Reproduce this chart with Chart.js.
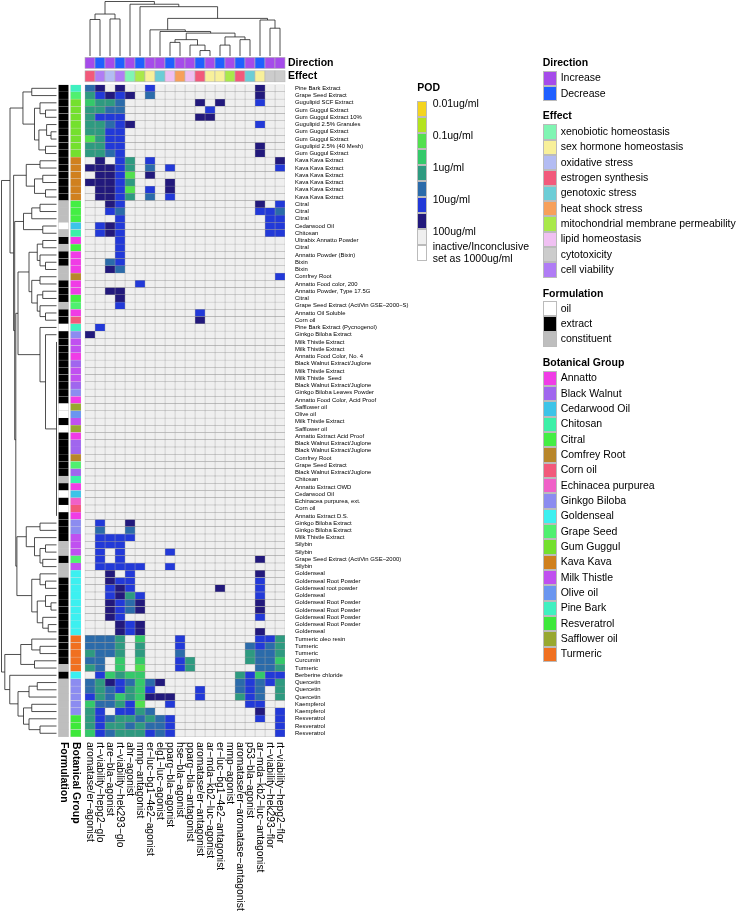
<!DOCTYPE html>
<html>
<head>
<meta charset="utf-8">
<script src="https://cdn.jsdelivr.net/npm/chart.js@4.4.0/dist/chart.umd.min.js"></script>
<style>
  body { margin: 0; background: #fff; font-family: "Liberation Sans", Arial, sans-serif; }
  #wrap { position: relative; width: 740px; height: 917px; overflow: hidden; }
  #heat { position: absolute; left: 0; top: 0; }
  .lg { position: absolute; white-space: nowrap; font-size: 10.5px; line-height: 14px; height: 14px; color: #000; }
  .lt { font-weight: bold; font-size: 10.5px; }
  .sw { position: absolute; box-sizing: border-box; border: 0.5px solid #bbb; }
</style>
</head>
<body>
<div id="wrap">
  <canvas id="heat" width="740" height="917"></canvas>
  <div id="legends"></div>
</div>
<script>
// columns (assays), in dendrogram order
const colLabels = ['aromatase/er−agonist', 'rt−viability−hepg2−glo', 'are−bla−agonist', 'rt−viability−hek293−glo',
  'ahr−agonist', 'mmp−antagonist', 'er−luc−bg1−4e2−agonist', 'elg1−luc−agonist', 'pparg−bla−agonist',
  'hse−bla−agonist', 'pparg−bla−antagonist', 'aromatase/er−antagonist', 'ar−mda−kb2−luc−agonist',
  'er−luc−bg1−4e2−antagonist', 'mmp−agonist', 'aromatase/er−aromatase−antagonist', 'p53−bla−agonist',
  'ar−mda−kb2−luc−antagonist', 'rt−viability−hek293−flor', 'rt−viability−hepg2−flor'];
const colDirection = ['Increase', 'Decrease', 'Increase', 'Decrease', 'Increase', 'Decrease', 'Increase', 'Increase',
  'Decrease', 'Increase', 'Increase', 'Decrease', 'Increase', 'Decrease', 'Increase', 'Decrease', 'Increase',
  'Decrease', 'Increase', 'Increase'];
const colEffect = ['estrogen synthesis', 'cell viability', 'oxidative stress', 'cell viability', 'xenobiotic homeostasis',
  'mitochondrial membrane permeability', 'sex hormone homeostasis', 'genotoxic stress', 'lipid homeostasis',
  'heat shock stress', 'lipid homeostasis', 'estrogen synthesis', 'sex hormone homeostasis', 'sex hormone homeostasis',
  'mitochondrial membrane permeability', 'estrogen synthesis', 'genotoxic stress', 'sex hormone homeostasis',
  'cytotoxicity', 'cytotoxicity'];

// rows (samples), in dendrogram order
const rowLabels = ['Pine Bark Extract', 'Grape Seed Extract', 'Gugulipid SCF Extract', 'Gum Guggul Extract',
  'Gum Guggul Extract 10%', 'Gugulipid 2.5% Granules', 'Gum Guggul Extract', 'Gum Guggul Extract',
  'Gugulipid 2.5% (40 Mesh)', 'Gum Guggul Extract', 'Kava Kava Extract', 'Kava Kava Extract', 'Kava Kava Extract',
  'Kava Kava Extract', 'Kava Kava Extract', 'Kava Kava Extract', 'Citral', 'Citral', 'Citral', 'Cedarwood Oil',
  'Chitosan', 'Ultrabix Annatto Powder', 'Citral', 'Annatto Powder (Bixin)', 'Bixin', 'Bixin', 'Comfrey Root',
  'Annatto Food color, 200', 'Annatto Powder, Type 17.5G', 'Citral', 'Grape Seed Extract (ActiVin GSE−2000−S)',
  'Annatto Oil Soluble', 'Corn oil', 'Pine Bark Extract (Pycnogenol)', 'Ginkgo Biloba Extract',
  'Milk Thistle Extract', 'Milk Thistle Extract', 'Annatto Food Color, No. 4', 'Black Walnut Extract/Juglone',
  'Milk Thistle Extract', 'Milk Thistle  Seed', 'Black Walnut Extract/Juglone', 'Ginkgo Biloba Leaves Powder',
  'Annatto Food Color, Acid Proof', 'Safflower oil', 'Olive oil', 'Milk Thistle Extract', 'Safflower oil',
  'Annatto Extract Acid Proof', 'Black Walnut Extract/Juglone', 'Black Walnut Extract/Juglone', 'Comfrey Root',
  'Grape Seed Extract', 'Black Walnut Extract/Juglone', 'Chitosan', 'Annatto Extract OWD', 'Cedarwood Oil',
  'Echinacea purpurea, ext.', 'Corn oil', 'Annatto Extract D.S.', 'Ginkgo Biloba Extract', 'Ginkgo Biloba Extract',
  'Milk Thistle Extract', 'Silybin', 'Silybin', 'Grape Seed Extract (ActiVin GSE−2000)', 'Silybin', 'Goldenseal',
  'Goldenseal Root Powder', 'Goldenseal root powder', 'Goldenseal', 'Goldenseal Root Powder', 'Goldenseal Root Powder',
  'Goldenseal Root Powder', 'Goldenseal Root Powder', 'Goldenseal', 'Turmeric oleo resin', 'Turmeric', 'Turmeric',
  'Curcumin', 'Turmeric', 'Berberine chloride', 'Quercetin', 'Quercetin', 'Quercetin', 'Kaempferol', 'Kaempferol',
  'Resveratrol', 'Resveratrol', 'Resveratrol'];

// formulation: e = extract, c = constituent, o = oil
const rowFormulation = 'eeeeeeeeeeeeeeeecccoceceecceeeceeoeeeeeeeeeeooeoeeeeeeceoeoeeeeccecceeeeeeeeeeeececcccccccc';

const rowGroup = ['Pine Bark', 'Grape Seed', 'Gum Guggul', 'Gum Guggul', 'Gum Guggul', 'Gum Guggul', 'Gum Guggul',
  'Gum Guggul', 'Gum Guggul', 'Gum Guggul', 'Kava Kava', 'Kava Kava', 'Kava Kava', 'Kava Kava', 'Kava Kava',
  'Kava Kava', 'Citral', 'Citral', 'Citral', 'Cedarwood Oil', 'Chitosan', 'Annatto', 'Citral', 'Annatto', 'Annatto',
  'Annatto', 'Comfrey Root', 'Annatto', 'Annatto', 'Citral', 'Grape Seed', 'Annatto', 'Corn oil', 'Pine Bark',
  'Ginkgo Biloba', 'Milk Thistle', 'Milk Thistle', 'Annatto', 'Black Walnut', 'Milk Thistle', 'Milk Thistle',
  'Black Walnut', 'Ginkgo Biloba', 'Annatto', 'Safflower oil', 'Olive oil', 'Milk Thistle', 'Safflower oil', 'Annatto',
  'Black Walnut', 'Black Walnut', 'Comfrey Root', 'Grape Seed', 'Black Walnut', 'Chitosan', 'Annatto', 'Cedarwood Oil',
  'Echinacea purpurea', 'Corn oil', 'Annatto', 'Ginkgo Biloba', 'Ginkgo Biloba', 'Milk Thistle', 'Milk Thistle',
  'Milk Thistle', 'Grape Seed', 'Milk Thistle', 'Goldenseal', 'Goldenseal', 'Goldenseal', 'Goldenseal', 'Goldenseal',
  'Goldenseal', 'Goldenseal', 'Goldenseal', 'Goldenseal', 'Turmeric', 'Turmeric', 'Turmeric', 'Turmeric', 'Turmeric',
  'Goldenseal', 'Ginkgo Biloba', 'Ginkgo Biloba', 'Ginkgo Biloba', 'Ginkgo Biloba', 'Ginkgo Biloba', 'Resveratrol',
  'Resveratrol', 'Resveratrol'];

// POD per cell, one character per column: see podLevel for the ug/ml value
const podLevel = { '.': 1000, n: 50, b: 20, s: 5, t: 2, g: 0.5, G: 0.2 };
const podRows = [
  'sn.n..b..........n..', 'tbnbn.s..........n..', 'gtts.......n.n...b..', 'ttss........b.......',
  'tbbb.......nn.......', 'ttsbn............b..', 'ttbb................', 'Gtbb................',
  'ttbb.............n..', 'ttsb.............n..', '.n.bt.b............n', 'nnnbt.s.b..........b',
  '.nnbG.n.............', 'nnnbt...n...........', '.nnbG.b.n...........', '.nnbt.s.b...........',
  '..nb.............n.b', '..bs.............bbs', '...b..............bb', '.bnb..............bb',
  '.bnb..............bb', '...b................', '...b................', '...b................',
  '..sb................', '..ns................', '...................b', '.....b..............',
  '..nn................', '...n................', '...b................', '...........b........',
  '...........n........', '.b..................', 'n...................', '....................',
  '....................', '....................', '....................', '....................',
  '....................', '....................', '....................', '....................',
  '....................', '....................', '....................', '....................',
  '....................', '....................', '....................', '....................',
  '....................', '....................', '....................', '....................',
  '....................', '....................', '....................', '....................',
  '.b..n...............', '.s..s...............', '.bbbb...............', '.bbb................',
  '.b.b....b...........', '.b.b.............n..', '.bbbbb..b...........', '..n.b............n..',
  '..nbb............b..', '..bnb........n...b..', '..bntb...........b..', '..nbsn...........n..',
  '..nbsn...........n..', '..nb.............b..', '...nbn..............', '...nbn...........n..',
  'ssst.g...b.......bbt', 'ssst.t...b......sbst', 'tsst.t...s......tsst', 'ss.g.g...bt.....tssg',
  'ts.g.G...bt......sst', '.bgtgg.........tbgbb', 'stnbsgsn.......sbsbt', 'stsbtgb....b...sbs.t',
  'btsgtgnnn..b...tbs.t', 'gsstbG..b.......bb..', 'tb.bbts..........n.b', 'tbsttstsb........b.b',
  'tbttstssb..........b', 'gbstttbsb..........b'];

// POD colour key (ug/ml lower bounds)
const podBreaks = [0.01, 0.0316, 0.1, 0.316, 1, 3.16, 10, 31.6, 100];
const podColors = ['#F4D41E', '#B3E31E', '#52E04E', '#34C96A', '#2E9A80', '#2B6BAA', '#2239D8', '#22197C', '#EFEFEF'];
const podTicks = ['0.01ug/ml', '0.1ug/ml', '1ug/ml', '10ug/ml', '100ug/ml'];

const directionNames = ['Increase', 'Decrease'];
const directionColors = ['#A54BEA', '#1F5FFF'];
const effectNames = ['xenobiotic homeostasis', 'sex hormone homeostasis', 'oxidative stress', 'estrogen synthesis',
  'genotoxic stress', 'heat shock stress', 'mitochondrial membrane permeability', 'lipid homeostasis', 'cytotoxicity',
  'cell viability'];
const effectColors = ['#80F5B3', '#F8F09A', '#B3BCF3', '#F2597B', '#6CCDD6', '#F7A05A', '#A9E94A', '#F0C0F2',
  '#CCCCCC', '#B07CF5'];
const formulationNames = ['oil', 'extract', 'constituent'];
const formulationCodes = ['o', 'e', 'c'];
const formulationColors = ['#FFFFFF', '#000000', '#BEBEBE'];
const groupNames = ['Annatto', 'Black Walnut', 'Cedarwood Oil', 'Chitosan', 'Citral', 'Comfrey Root', 'Corn oil',
  'Echinacea purpurea', 'Ginkgo Biloba', 'Goldenseal', 'Grape Seed', 'Gum Guggul', 'Kava Kava', 'Milk Thistle',
  'Olive oil', 'Pine Bark', 'Resveratrol', 'Safflower oil', 'Turmeric'];
const groupColors = ['#F03CE6', '#A066EE', '#3DC4E8', '#3CF0A8', '#44EE44', '#B8862B', '#F2597B', '#F060C8',
  '#8C8CF0', '#3CF0F0', '#50F070', '#74E02E', '#D0801E', '#C050F0', '#6A96F0', '#40F0C0', '#3EE83A', '#98A830',
  '#F07020'];

// dendrograms: [height, child, child...]; a number is a leaf index
const colTree = [1.0,
  [0.77, [0.67, 0, 1], [0.68, 2, 3]],
  [0.95, 4, [0.905, 5, [0.69,
    [0.48, 6, [0.45, 7, [0.42, [0.3, [0.25, 8, 9], [0.2, 10, [0.1, 11, 12]]], [0.35, [0.2, 13, 14], [0.3, 15, 16]]]]],
    [0.66, 17, [0.51, 18, 19]]]]]];

const rowTree = [1.0,
  [0.845,
    [0.61, [0.45, 0, 1], [0.4, [0.3, 2, [0.2, 3, 4]], [0.32, [0.18, 5, [0.1, 6, 7]], [0.2, 8, 9]]]],
    [0.78,
      [0.55, [0.3, 10, 11], [0.4, [0.25, 12, 13], [0.2, 14, 15]]],
      [0.76,
        [0.6, [0.45, [0.3, 16, 17], 18], [0.25, 19, 20]],
        [0.74,
          [0.7,
            [0.5, [0.35, [0.25, 21, 22], [0.3, 23, [0.2, 24, 25]]],
              [0.45, [0.3, 26, 27], [0.35, [0.25, 28, 29], [0.3, 30, [0.2, 31, 32]]]]],
            [0.3, 33, [0.2, 34, [0, 35, 36, 37, 38, 39, 40, 41, 42, 43, 44, 45, 46, 47, 48, 49, 50, 51, 52, 53, 54,
              55, 56, 57, 58, 59]]]],
          [0.72,
            [0.55, [0.3, 60, 61], [0.4, 62, [0.3, [0.2, 63, 64], [0.25, 65, 66]]]],
            [0.45, [0.3, 67, [0.2, 68, 69]], [0.35, [0.2, 70, [0.1, 71, 72]], [0.25, 73, [0.15, 74, 75]]]]]]]]],
  [0.94,
    [0.65, [0.45, 76, [0.3, 77, 78]], [0.4, 79, 80]],
    [0.85, 81, [0.7, [0.5, [0.35, 82, 83], 84], [0.6, [0.45, 85, 86], [0.5, 87, [0.3, 88, 89]]]]]]];

function podColour(v) {
  if (v >= 1000) return '#EFEFEF';
  for (let i = podBreaks.length - 1; i >= 0; i--) if (v >= podBreaks[i]) return podColors[i];
  return podColors[0];
}

const GRID = '#9d9d9d';
const FONT = '"Liberation Sans", Arial, sans-serif';
const barCommon = { borderSkipped: false, grouped: false, categoryPercentage: 1, barPercentage: 1 };

const datasets = colLabels.map((name, j) => Object.assign({
  label: name,
  data: rowLabels.map(() => [j, j + 1]),
  backgroundColor: podRows.map(r => podColour(podLevel[r[j]])),
  borderColor: GRID,
  borderWidth: 0.5
}, barCommon));

datasets.push(Object.assign({
  label: 'Formulation',
  data: rowLabels.map(() => [-2.65, -1.65]),
  backgroundColor: rowFormulation.split('').map(c => formulationColors[formulationCodes.indexOf(c)]),
  borderColor: '#bdbdbd',
  borderWidth: 0.4
}, barCommon));

datasets.push(Object.assign({
  label: 'Botanical Group',
  data: rowLabels.map(() => [-1.45, -0.4]),
  backgroundColor: rowGroup.map(g => groupColors[groupNames.indexOf(g)]),
  borderColor: '#dddddd',
  borderWidth: 0.4
}, barCommon));

// walk a dendrogram; stem draws a leg of a node, bar draws the crossbar
function walkTree(node, pos, stem, bar) {
  if (typeof node === 'number') return { p: pos(node), h: 0 };
  const h = node[0];
  const kids = node.slice(1).map(k => walkTree(k, pos, stem, bar));
  kids.forEach(k => stem(k.p, k.h, h));
  const p1 = kids[0].p, p2 = kids[kids.length - 1].p;
  bar(p1, p2, h);
  return { p: (p1 + p2) / 2, h: h };
}

const decor = {
  id: 'decor',
  afterDatasetsDraw(chart) {
    const { ctx } = chart;
    const xs = chart.scales.x, ys = chart.scales.y;
    ctx.save();

    // top annotations
    colLabels.forEach((c, j) => {
      const x0 = xs.getPixelForValue(j), x1 = xs.getPixelForValue(j + 1);
      ctx.fillStyle = directionColors[directionNames.indexOf(colDirection[j])];
      ctx.fillRect(x0, 57.3, x1 - x0, 11.2);
      ctx.fillStyle = effectColors[effectNames.indexOf(colEffect[j])];
      ctx.fillRect(x0, 70.8, x1 - x0, 11);
      ctx.strokeStyle = '#b5b5b5';
      ctx.lineWidth = 0.6;
      ctx.strokeRect(x0, 57.3, x1 - x0, 11.2);
      ctx.strokeRect(x0, 70.8, x1 - x0, 11);
    });
    ctx.fillStyle = '#000';
    ctx.font = 'bold 10.5px ' + FONT;
    ctx.textBaseline = 'middle';
    ctx.textAlign = 'left';
    ctx.fillText('Direction', 288, 63.2);
    ctx.fillText('Effect', 288, 76.5);

    // dendrograms
    ctx.strokeStyle = '#222';
    ctx.lineWidth = 0.8;
    ctx.beginPath();
    const colTop = 1.5, colBase = 56;
    const cy = h => colBase - h * (colBase - colTop);
    walkTree(colTree, j => xs.getPixelForValue(j + 0.5),
      (p, h1, h2) => { ctx.moveTo(p, cy(h1)); ctx.lineTo(p, cy(h2)); },
      (p1, p2, h) => { ctx.moveTo(p1, cy(h)); ctx.lineTo(p2, cy(h)); });
    const rowLeft = 1.5, rowBase = 56.5;
    const rx = h => rowBase - h * (rowBase - rowLeft);
    walkTree(rowTree, i => ys.getPixelForValue(i),
      (p, h1, h2) => { ctx.moveTo(rx(h1), p); ctx.lineTo(rx(h2), p); },
      (p1, p2, h) => { ctx.moveTo(rx(h), p1); ctx.lineTo(rx(h), p2); });
    ctx.stroke();

    // bottom labels, rotated to read downwards
    const bottom = chart.chartArea.bottom + 5;
    ctx.fillStyle = '#000';
    ctx.textBaseline = 'middle';
    ctx.textAlign = 'left';
    ctx.font = '10.3px ' + FONT;
    colLabels.forEach((c, j) => {
      ctx.save();
      ctx.translate(xs.getPixelForValue(j + 0.5), bottom);
      ctx.rotate(Math.PI / 2);
      ctx.fillText(c, 0, 0);
      ctx.restore();
    });
    ctx.font = 'bold 10.5px ' + FONT;
    [['Formulation', -2.15], ['Botanical Group', -0.925]].forEach(([t, v]) => {
      ctx.save();
      ctx.translate(xs.getPixelForValue(v), bottom);
      ctx.rotate(Math.PI / 2);
      ctx.fillText(t, 0, 0);
      ctx.restore();
    });
    ctx.restore();
  }
};

new Chart(document.getElementById('heat'), {
  type: 'bar',
  data: { labels: rowLabels, datasets: datasets },
  options: {
    indexAxis: 'y',
    responsive: false,
    animation: false,
    layout: { padding: { left: 57.5, right: 325, top: 84.7, bottom: 180.1 } },
    plugins: { legend: { display: false }, tooltip: { enabled: false } },
    scales: {
      x: { type: 'linear', min: -2.75, max: 20, display: false },
      y: {
        position: 'right',
        grid: { display: false },
        border: { display: false },
        ticks: { autoSkip: false, padding: 2, color: '#000', font: { size: 5.9, family: FONT } },
        afterFit: s => { s.width = 130; }
      }
    }
  },
  plugins: [decor]
});

// legends (HTML)
const lg = document.getElementById('legends');
function addText(txt, x, yc, bold) {
  const d = document.createElement('div');
  d.className = 'lg' + (bold ? ' lt' : '');
  d.style.left = x + 'px';
  d.style.top = (yc - 7) + 'px';
  d.textContent = txt;
  lg.appendChild(d);
}
function addSwatch(x, y, w, h, col) {
  const d = document.createElement('div');
  d.className = 'sw';
  Object.assign(d.style, { left: x + 'px', top: y + 'px', width: w + 'px', height: h + 'px', background: col });
  lg.appendChild(d);
}
function addLegend(title, titleY, names, colors, firstY) {
  const step = 15.33;
  addText(title, 542.7, titleY, true);
  names.forEach((n, k) => {
    const yc = firstY + k * step;
    addSwatch(542.7, yc - step / 2 + 1, 14, step, colors[k]);
    addText(n, 560.7, yc, false);
  });
}
addLegend('Direction', 61.7, directionNames, directionColors, 77.3);
addLegend('Effect', 115, effectNames, effectColors, 131);
addLegend('Formulation', 292.7, formulationNames, formulationColors, 307.7);
addLegend('Botanical Group', 361.7, groupNames, groupColors, 377.3);

// POD colour key
addText('POD', 417.3, 86.7, true);
podColors.concat(['#FFFFFF']).forEach((c, k) => addSwatch(417.3, 100.7 + k * 16, 10, 16, c));
podTicks.forEach((t, k) => addText(t, 432.7, 102.7 + k * 32, false));
addText('inactive/Inconclusive', 432.7, 246, false);
addText('set as 1000ug/ml', 432.7, 258, false);
</script>
</body>
</html>
